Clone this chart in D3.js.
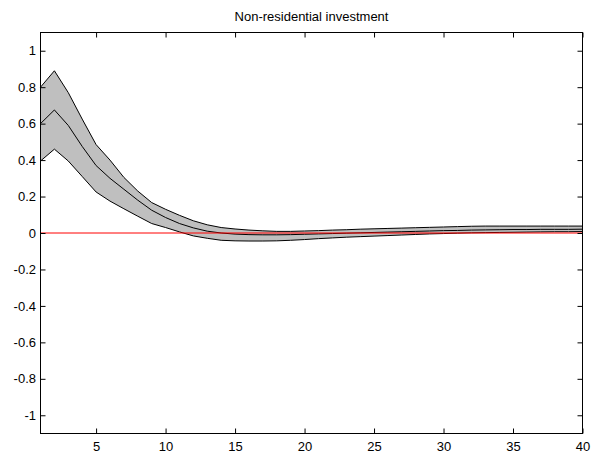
<!DOCTYPE html>
<html>
<head>
<meta charset="utf-8">
<script src="https://cdn.jsdelivr.net/npm/d3@7"></script>
<style>
  html, body { margin: 0; padding: 0; background: #fff; }
  svg { display: block; font-family: "Liberation Sans", Arial, sans-serif; }
</style>
</head>
<body>
<svg id="chart" width="592" height="457"></svg>
<script>
// Impulse response: median and band, horizon 1..40
const horizon = d3.range(1, 41);

const upperBand = [0.80, 0.89, 0.77, 0.625, 0.485, 0.40, 0.305, 0.23, 0.167, 0.13,
  0.097, 0.067, 0.045, 0.03, 0.022, 0.016, 0.012, 0.009, 0.009, 0.011,
  0.013, 0.016, 0.018, 0.021, 0.023, 0.025, 0.027, 0.029, 0.031, 0.033,
  0.035, 0.037, 0.038, 0.038, 0.038, 0.038, 0.038, 0.038, 0.038, 0.038];

const median = [0.60, 0.675, 0.59, 0.475, 0.37, 0.30, 0.24, 0.18, 0.125, 0.085,
  0.052, 0.028, 0.01, 0.0, -0.006, -0.009, -0.01, -0.01, -0.009, -0.007,
  -0.005, -0.003, -0.001, 0.001, 0.003, 0.005, 0.007, 0.009, 0.011, 0.013,
  0.014, 0.016, 0.017, 0.018, 0.019, 0.019, 0.02, 0.02, 0.02, 0.021];

const lowerBand = [0.395, 0.46, 0.395, 0.31, 0.225, 0.175, 0.133, 0.092, 0.052, 0.03,
  0.006, -0.016, -0.029, -0.04, -0.043, -0.044, -0.044, -0.043, -0.04, -0.036,
  -0.031, -0.027, -0.023, -0.02, -0.017, -0.014, -0.011, -0.008, -0.005, -0.003,
  -0.001, 0.001, 0.002, 0.003, 0.004, 0.005, 0.006, 0.007, 0.007, 0.008];

const xTicks = [5, 10, 15, 20, 25, 30, 35, 40];
const yTicks = [-1, -0.8, -0.6, -0.4, -0.2, 0, 0.2, 0.4, 0.6, 0.8, 1];
const title = 'Non-residential investment';

const svg = d3.select('#chart');
const margin = { top: 32.5, right: 9.5, bottom: 23.5, left: 40.5 };
const width = 592, height = 457;

const x = d3.scaleLinear().domain([1, 40]).range([margin.left, width - margin.right]);
const y = d3.scaleLinear().domain([-1.1, 1.1]).range([height - margin.bottom, margin.top]);

const rows = horizon.map((h, i) => ({ h, lo: lowerBand[i], mid: median[i], hi: upperBand[i] }));

// shaded band
svg.append('path')
  .datum(rows)
  .attr('fill', '#bfbfbf')
  .attr('stroke', 'none')
  .attr('d', d3.area().x(d => x(d.h)).y0(d => y(d.lo)).y1(d => y(d.hi)));

const line = key => d3.line().x(d => x(d.h)).y(d => y(d[key]));

['hi', 'lo', 'mid'].forEach(k => {
  svg.append('path')
    .datum(rows)
    .attr('fill', 'none')
    .attr('stroke', '#000')
    .attr('stroke-width', 1)
    .attr('d', line(k));
});

// zero line
svg.append('line')
  .attr('x1', x(1)).attr('x2', x(40))
  .attr('y1', y(0)).attr('y2', y(0))
  .attr('stroke', '#ff0000')
  .attr('stroke-width', 1);

// axes, matlab style: ticks inward on all four sides
const tick = 5;
const fmt = v => String(v);

svg.append('g')
  .attr('transform', `translate(0,${height - margin.bottom})`)
  .call(d3.axisBottom(x).tickValues(xTicks).tickSizeInner(-tick).tickSizeOuter(0).tickPadding(8).tickFormat(fmt));

svg.append('g')
  .attr('transform', `translate(0,${margin.top})`)
  .call(d3.axisTop(x).tickValues(xTicks).tickSizeInner(-tick).tickSizeOuter(0).tickFormat(''));

svg.append('g')
  .attr('transform', `translate(${margin.left},0)`)
  .call(d3.axisLeft(y).tickValues(yTicks).tickSizeInner(-tick).tickSizeOuter(0).tickPadding(4.5).tickFormat(fmt));

svg.append('g')
  .attr('transform', `translate(${width - margin.right},0)`)
  .call(d3.axisRight(y).tickValues(yTicks).tickSizeInner(-tick).tickSizeOuter(0).tickFormat(''));

svg.selectAll('.tick text').attr('font-size', 13).attr('fill', '#000').attr('font-family', '"Liberation Sans", Arial, sans-serif');
svg.selectAll('.domain').remove();
svg.selectAll('.tick line').attr('stroke', '#000');

// frame
svg.append('rect')
  .attr('x', margin.left).attr('y', margin.top)
  .attr('width', width - margin.left - margin.right)
  .attr('height', height - margin.top - margin.bottom)
  .attr('fill', 'none')
  .attr('stroke', '#000')
  .attr('stroke-width', 1);

svg.append('text')
  .attr('x', (margin.left + width - margin.right) / 2)
  .attr('y', 20.5)
  .attr('text-anchor', 'middle')
  .attr('font-size', 13)
  .attr('fill', '#000')
  .text(title);
</script>
</body>
</html>
